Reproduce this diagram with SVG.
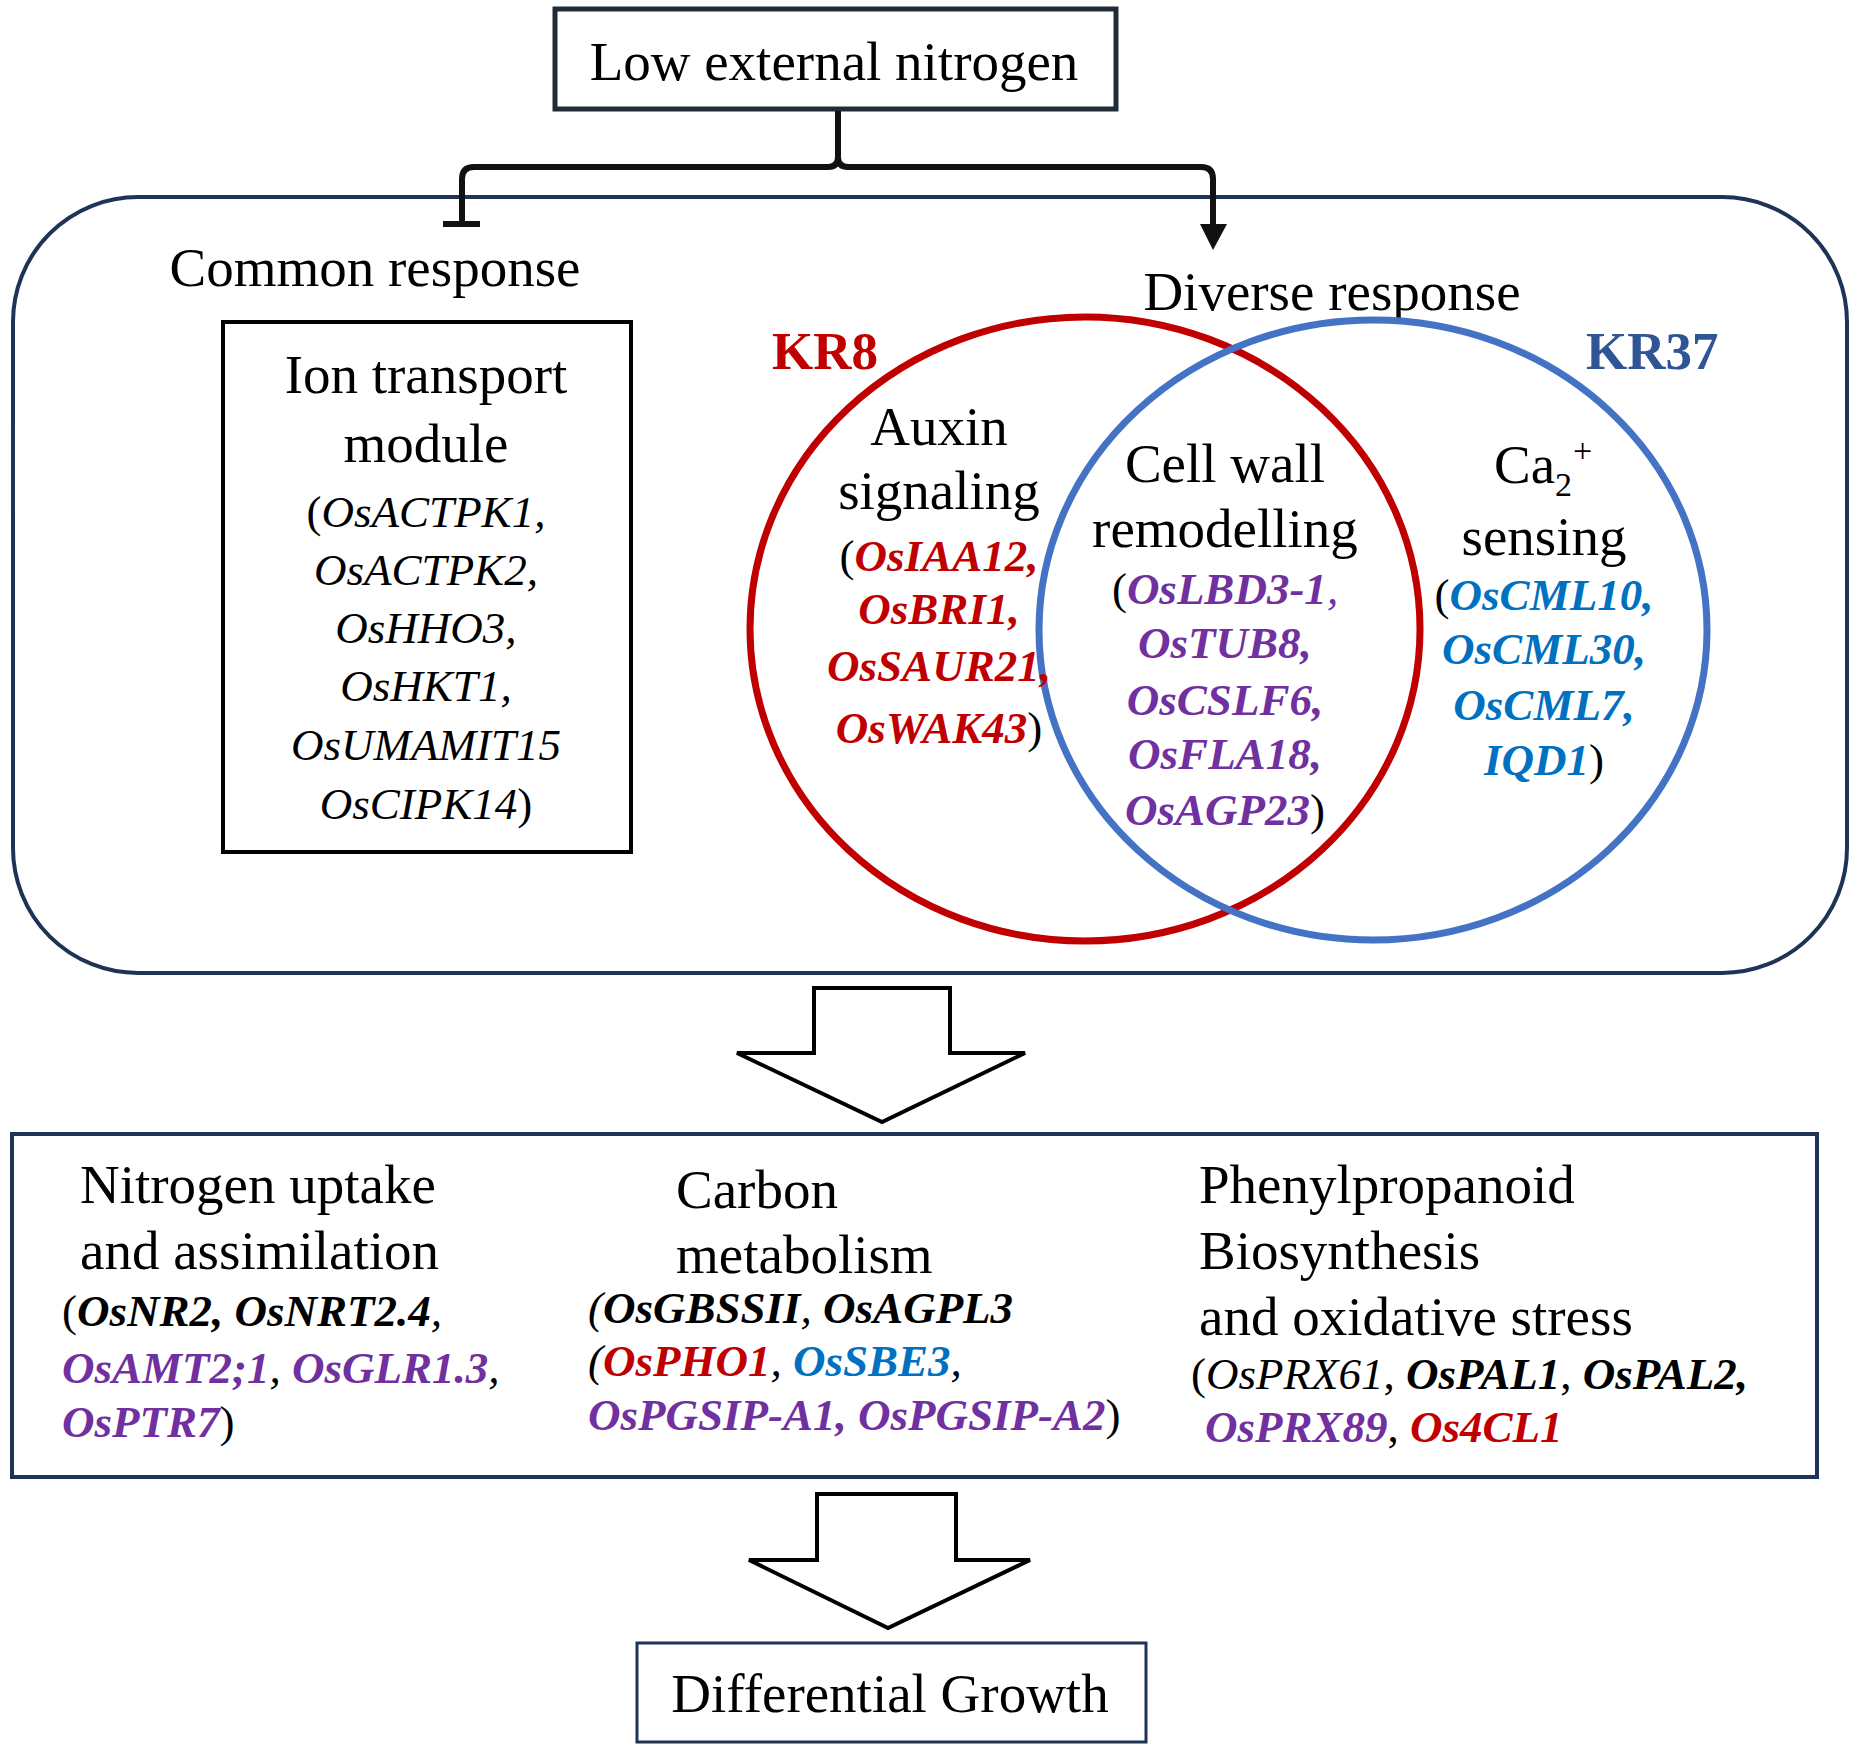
<svg xmlns="http://www.w3.org/2000/svg" width="1856" height="1759" viewBox="0 0 1856 1759">
<style>
text{font-family:"Liberation Serif","Times New Roman",serif;fill:#000}
.h{font-size:55px}
.g{font-size:45px;font-style:italic}
.b{font-weight:bold;font-style:italic}
.n{font-weight:normal;font-style:normal;fill:#000}
.ni{font-weight:normal;font-style:italic;fill:#000}
.red{fill:#C00000}
.pur{fill:#7030A0}
.blu{fill:#0070C0}
.blk{fill:#000}
.c{text-anchor:middle}
.navy{fill:none;stroke:#1F3356;stroke-width:4}
.hollow{fill:#fff;stroke:#000;stroke-width:4;stroke-linejoin:miter}
</style>
<rect width="1856" height="1759" fill="#fff"/>

<g id="container">
<rect class="navy" x="13" y="197" width="1834" height="776" rx="125" ry="125"/>
</g>

<g id="top">
<rect x="555" y="9" width="561" height="100" fill="#fff" stroke="#222B38" stroke-width="5"/>
<text class="h c" x="834" y="80">Low external nitrogen</text>
</g>

<g id="connectors">
<path d="M838 111 V157 Q838 167 828 167 H474 Q462 167 462 179 V224" fill="none" stroke="#111" stroke-width="6"/>
<path d="M838 157 Q838 167 848 167 H1201 Q1213 167 1213 179 V228" fill="none" stroke="#111" stroke-width="6"/>
<line x1="443" y1="224" x2="480" y2="224" stroke="#111" stroke-width="6"/>
<polygon points="1200,224 1227,224 1213,250" fill="#111"/>
<polygon class="hollow" points="814,988 950,988 950,1053 1025,1053 882,1122 737,1053 814,1053"/>
<polygon class="hollow" points="817,1494 956,1494 956,1560 1030,1560 888,1628 749,1560 817,1560"/>
</g>

<g id="common">
<text class="h c" x="375" y="286">Common response</text>
</g>

<g id="ion">
<rect x="223" y="322" width="408" height="530" fill="none" stroke="#000" stroke-width="4"/>
<text class="h c" x="426" y="393">Ion transport</text>
<text class="h c" x="426" y="462">module</text>
<text class="g c" x="426" y="527"><tspan class="n">(</tspan>OsACTPK1,</text>
<text class="g c" x="426" y="585">OsACTPK2,</text>
<text class="g c" x="426" y="643">OsHHO3,</text>
<text class="g c" x="426" y="701">OsHKT1,</text>
<text class="g c" x="426" y="760">OsUMAMIT15</text>
<text class="g c" x="426" y="819">OsCIPK14<tspan class="n">)</tspan></text>
</g>

<g id="diverse">
<text class="h c" x="1332" y="310">Diverse response</text>
</g>

<g id="venn">
<ellipse cx="1085" cy="629" rx="335" ry="312" fill="none" stroke="#C00000" stroke-width="7"/>
<ellipse cx="1373" cy="630" rx="334" ry="310" fill="none" stroke="#4472C4" stroke-width="7"/>
</g>

<g id="kr8">
<text x="772" y="369" style="font-size:53px;font-weight:bold;fill:#C00000">KR8</text>
</g>
<g id="kr37">
<text x="1586" y="369" style="font-size:53px;font-weight:bold;fill:#2F5597">KR37</text>
</g>

<g id="auxin">
<text class="h c" x="939" y="445">Auxin</text>
<text class="h c" x="939" y="509">signaling</text>
<text class="g c b red" x="939" y="571"><tspan class="n">(</tspan>OsIAA12,</text>
<text class="g c b red" x="939" y="624">OsBRI1,</text>
<text class="g c b red" x="939" y="681">OsSAUR21,</text>
<text class="g c b red" x="939" y="743">OsWAK43<tspan class="n">)</tspan></text>
</g>

<g id="cellwall">
<text class="h c" x="1225" y="482">Cell wall</text>
<text class="h c" x="1225" y="547">remodelling</text>
<text class="g c b pur" x="1225" y="604"><tspan class="n">(</tspan>OsLBD3-1<tspan style="font-weight:normal">,</tspan></text>
<text class="g c b pur" x="1225" y="658">OsTUB8,</text>
<text class="g c b pur" x="1225" y="715">OsCSLF6,</text>
<text class="g c b pur" x="1225" y="769">OsFLA18,</text>
<text class="g c b pur" x="1225" y="825">OsAGP23<tspan class="n">)</tspan></text>
</g>

<g id="calcium">
<text class="h" x="1494" y="483">Ca<tspan style="font-size:34px" dy="13">2</tspan><tspan style="font-size:34px" dx="1" dy="-34">+</tspan></text>
<text class="h c" x="1544" y="555">sensing</text>
<text class="g c b blu" x="1544" y="610"><tspan class="n">(</tspan>OsCML10,</text>
<text class="g c b blu" x="1544" y="664">OsCML30,</text>
<text class="g c b blu" x="1544" y="720">OsCML7,</text>
<text class="g c b blu" x="1544" y="775">IQD1<tspan class="n">)</tspan></text>
</g>

<g id="outcomes">
<rect class="navy" x="12" y="1134" width="1805" height="343" fill="#fff"/>
</g>

<g id="nitrogen">
<text class="h" x="80" y="1203">Nitrogen uptake</text>
<text class="h" x="80" y="1269">and assimilation</text>
<text class="g" x="62" y="1326"><tspan class="n">(</tspan><tspan class="b blk">OsNR2, OsNRT2.4</tspan><tspan class="ni">,</tspan></text>
<text class="g" x="62" y="1383"><tspan class="b pur">OsAMT2;1</tspan><tspan class="ni">, </tspan><tspan class="b pur">OsGLR1.3</tspan><tspan class="ni">,</tspan></text>
<text class="g" x="62" y="1437"><tspan class="b pur">OsPTR7</tspan><tspan class="n">)</tspan></text>
</g>

<g id="carbon">
<text class="h" x="676" y="1208">Carbon</text>
<text class="h" x="676" y="1273">metabolism</text>
<text class="g" x="588" y="1323"><tspan class="ni">(</tspan><tspan class="b blk">OsGBSSII</tspan><tspan class="ni">, </tspan><tspan class="b blk">OsAGPL3</tspan></text>
<text class="g" x="588" y="1376"><tspan class="ni">(</tspan><tspan class="b red">OsPHO1</tspan><tspan class="ni">, </tspan><tspan class="b blu">OsSBE3</tspan><tspan class="ni">,</tspan></text>
<text class="g" x="588" y="1430"><tspan class="b pur">OsPGSIP-A1, OsPGSIP-A2</tspan><tspan class="n">)</tspan></text>
</g>

<g id="phenyl">
<text class="h" x="1199" y="1203">Phenylpropanoid</text>
<text class="h" x="1199" y="1269">Biosynthesis</text>
<text class="h" x="1199" y="1335">and oxidative stress</text>
<text class="g" x="1191" y="1389"><tspan class="n">(</tspan><tspan class="ni">OsPRX61</tspan><tspan class="n">, </tspan><tspan class="b blk">OsPAL1</tspan><tspan class="n">, </tspan><tspan class="b blk">OsPAL2,</tspan></text>
<text class="g" x="1205" y="1442"><tspan class="b pur">OsPRX89</tspan><tspan class="n">, </tspan><tspan class="b red">Os4CL1</tspan></text>
</g>

<g id="growth">
<rect x="637" y="1643" width="509" height="99" fill="#fff" stroke="#1F3356" stroke-width="3"/>
<text class="h c" x="890" y="1712">Differential Growth</text>
</g>
</svg>
